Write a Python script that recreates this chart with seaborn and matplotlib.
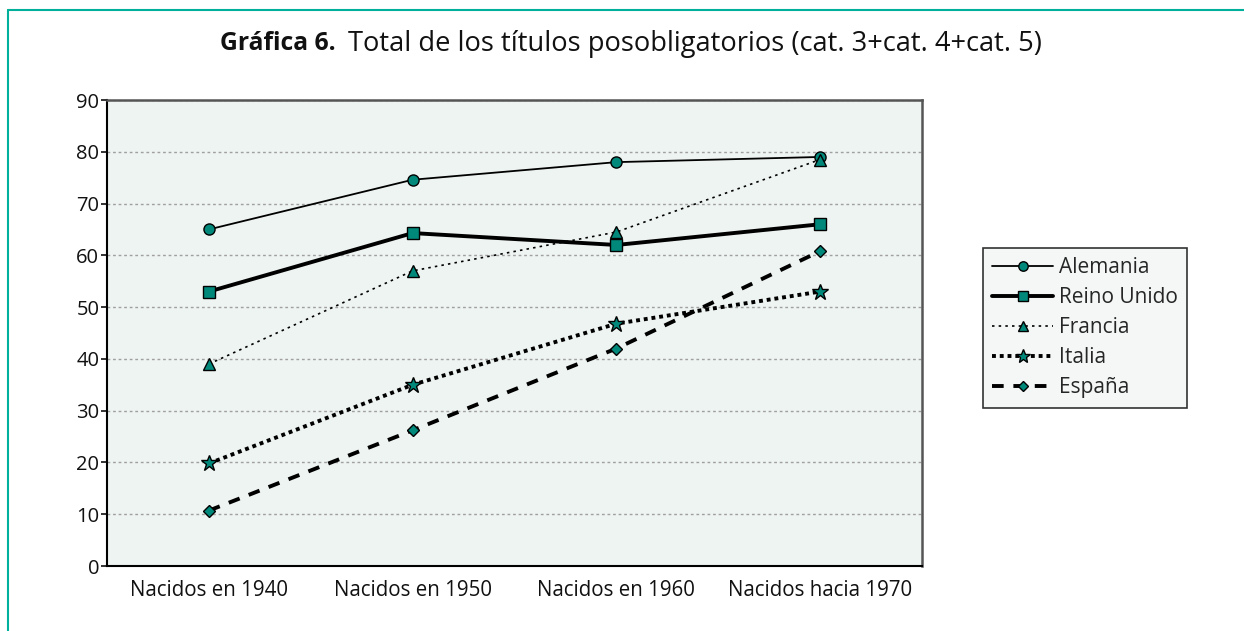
import pandas as pd
import matplotlib
matplotlib.use('Agg')
import matplotlib.pyplot as plt
import seaborn as sns
from matplotlib.lines import Line2D

# Data
categories = ['Nacidos en 1940', 'Nacidos en 1950', 'Nacidos en 1960', 'Nacidos hacia 1970']
alemania = [65.0, 74.6, 78.0, 79.0]
reino_unido = [53.0, 64.3, 62.0, 66.0]
francia = [39.0, 57.0, 64.5, 78.5]
italia = [19.8, 35.0, 46.8, 53.0]
espana = [10.7, 26.2, 42.0, 60.8]

series_names = ['Alemania', 'Reino Unido', 'Francia', 'Italia', 'España']
series_values = [alemania, reino_unido, francia, italia, espana]

rows = []
for name, vals in zip(series_names, series_values):
    for cat, v in zip(categories, vals):
        rows.append({'cohorte': cat, 'pais': name, 'valor': v})
df = pd.DataFrame(rows)

sns.set_theme(style='white')
plt.rcParams['font.family'] = ['Open Sans', 'DejaVu Sans']

teal = '#00897B'
styles = {
    'Alemania':    dict(ls='-', lw=1.3, marker='o', ms=8),
    'Reino Unido': dict(ls='-', lw=2.8, marker='s', ms=8),
    'Francia':     dict(ls=(0, (1.5, 2.5)), lw=1.2, marker='^', ms=8),
    'Italia':      dict(ls=(0, (1, 1)), lw=2.8, marker='*', ms=12),
    'España':      dict(ls=(0, (3, 2.5)), lw=2.8, marker='D', ms=6),
}

fig = plt.figure(figsize=(12.44, 6.31), dpi=100)
ax = fig.add_axes([107 / 1244, 1 - 566 / 631, 815 / 1244, 466 / 631])
ax.set_facecolor('#EEF4F2')

handles = []
for name in series_names:
    st = styles[name]
    sub = df[df['pais'] == name]
    sns.lineplot(data=sub, x='cohorte', y='valor', ax=ax, color='black',
                 linestyle=st['ls'], linewidth=st['lw'], marker=st['marker'],
                 markersize=st['ms'], markerfacecolor=teal, markeredgecolor='black',
                 markeredgewidth=1.0, sort=False, legend=False)
    handles.append(Line2D([], [], color='black', linestyle=st['ls'], linewidth=st['lw'],
                          marker=st['marker'], markersize=st['ms'] * 0.85,
                          markerfacecolor=teal, markeredgecolor='black', label=name))

ax.set_xlim(-0.5, 3.5)
ax.set_ylim(0, 90)
ax.set_yticks(range(0, 91, 10))
ax.set_xticks(range(len(categories)))
ax.set_xticklabels(categories)
ax.set_xticks([0.5, 1.5, 2.5], minor=True)
ax.tick_params(axis='x', which='major', length=0, labelsize=14.8, pad=10, colors='#111111')
ax.tick_params(axis='x', which='minor', length=4, width=1.2, direction='out', color='black')
ax.tick_params(axis='y', length=4, width=1.2, direction='out', labelsize=14.5, pad=1.5,
               colors='#111111', left=True)
ax.set_xlabel('')
ax.set_ylabel('')
ax.yaxis.grid(True, color='#A0A0A0', linestyle=(0, (2, 2)), linewidth=1)
ax.set_axisbelow(True)

for side in ['left', 'bottom']:
    ax.spines[side].set_color('black')
    ax.spines[side].set_linewidth(1.5)
for side in ['top', 'right']:
    ax.spines[side].set_color('#555555')
    ax.spines[side].set_linewidth(1.8)

leg = fig.legend(handles=handles, loc='upper left', bbox_to_anchor=(983 / 1244, 1 - 248 / 631),
                 borderaxespad=0, fontsize=15, frameon=True, fancybox=False, handlelength=2.9,
                 handletextpad=0.3, borderpad=0.45, labelspacing=0.43)
leg.get_frame().set_edgecolor('black')
leg.get_frame().set_linewidth(1.2)
leg.get_frame().set_facecolor('#F2F5F4')

# Title: bold label plus normal text
fig.text(336 / 1244, 1 - 44 / 631, 'Gráfica 6.', ha='right', va='center',
         fontsize=17.8, fontweight='bold', color='#111111')
fig.text(348 / 1244, 1 - 44 / 631, 'Total de los títulos posobligatorios (cat. 3+cat. 4+cat. 5)',
         ha='left', va='center', fontsize=19.6, color='#111111')

# Teal frame on top and left edges
fig.add_artist(Line2D([8 / 1244, 1], [1 - 10 / 631, 1 - 10 / 631], color='#00B09A', lw=1.5))
fig.add_artist(Line2D([8 / 1244, 8 / 1244], [0, 1 - 10 / 631], color='#00B09A', lw=1.5))

fig.savefig('out.png', dpi=100)
